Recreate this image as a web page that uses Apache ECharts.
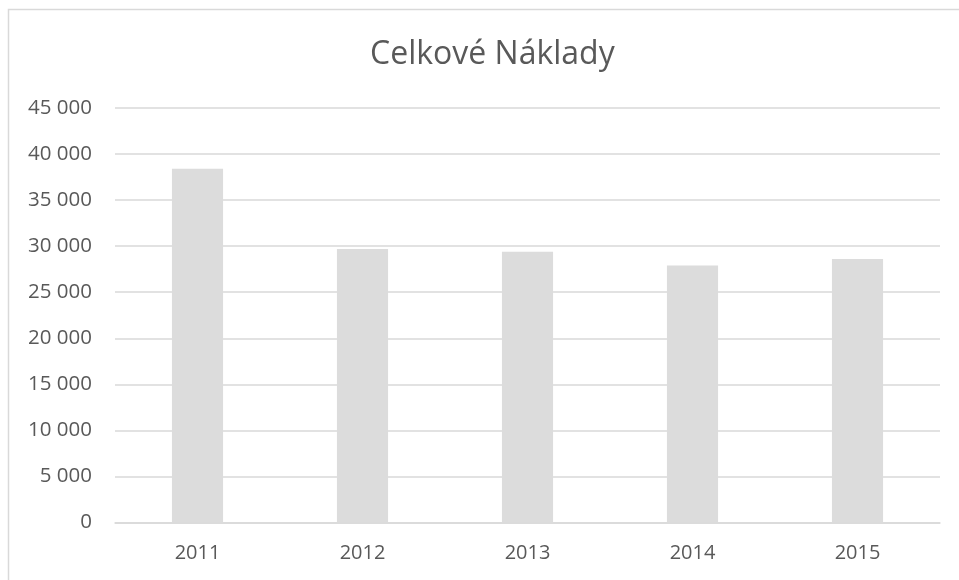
<!DOCTYPE html>
<html>
<head>
<meta charset="utf-8">
<script src="https://cdn.jsdelivr.net/npm/echarts@6/dist/echarts.min.js"></script>
<style>html,body{margin:0;padding:0;background:#fff;}#c{width:959px;height:580px;}</style>
</head>
<body>
<div id="c"></div>
<script>
const titleText = "Celkové Náklady";
const categories = ["2011", "2012", "2013", "2014", "2015"];
const values = [38400, 29700, 29400, 27900, 28600];
const yMin = 0, yMax = 45000, yStep = 5000;

function fmt(v) {
  return String(v).replace(/\B(?=(\d{3})+(?!\d))/g, " ");
}

const FONT = '"Open Sans", Lato, sans-serif';
const chart = echarts.init(document.getElementById('c'), null, {renderer: 'canvas'});
chart.setOption({
  animation: false,
  backgroundColor: '#ffffff',
  textStyle: {fontFamily: FONT},
  title: {
    text: titleText,
    left: 365,
    top: 34,
    textStyle: {fontFamily: FONT, fontSize: 32, fontWeight: 'normal', color: '#595959'}
  },
  graphic: [{
    type: 'rect',
    shape: {x: 8.5, y: 9.5, width: 1000, height: 1000},
    style: {fill: 'none', stroke: '#d9d9d9', lineWidth: 1.5},
    silent: true
  }],
  grid: {left: 115, right: 19, top: 108, bottom: 57.5, containLabel: false},
  xAxis: {
    type: 'category',
    data: categories,
    axisLine: {show: true, lineStyle: {color: '#d9d9d9', width: 1.5}},
    axisTick: {show: false},
    axisLabel: {color: '#595959', fontSize: 20, margin: 21, fontFamily: FONT}
  },
  yAxis: {
    type: 'value',
    min: yMin, max: yMax, interval: yStep,
    axisLine: {show: false},
    axisTick: {show: false},
    splitLine: {lineStyle: {color: '#d9d9d9', width: 1.5}},
    axisLabel: {color: '#595959', fontSize: 20.5, margin: 23, formatter: fmt, fontFamily: FONT}
  },
  series: [{
    type: 'bar',
    data: values,
    barWidth: '31%',
    itemStyle: {color: '#dcdcdc'}
  }]
});
</script>
</body>
</html>
